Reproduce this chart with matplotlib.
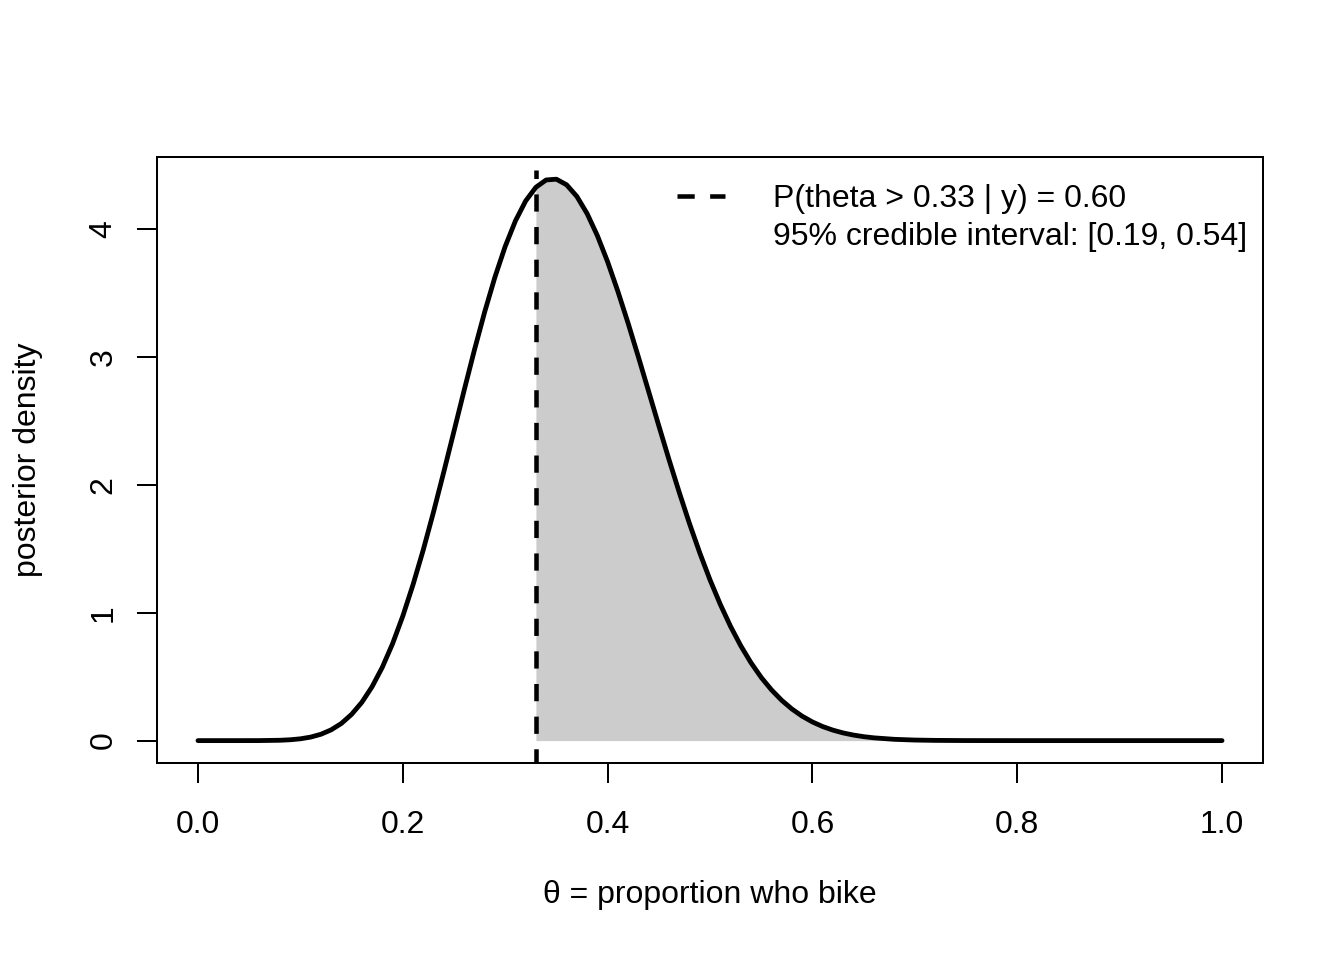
import numpy as np
import matplotlib.pyplot as plt
from matplotlib.lines import Line2D

plt.rcParams['font.family'] = ['Liberation Sans', 'DejaVu Sans']

# posterior density
theta = [0.00, 0.04, 0.06, 0.08, 0.09, 0.10, 0.11, 0.12, 0.13, 0.14,
         0.15, 0.16, 0.17, 0.18, 0.19, 0.20, 0.21, 0.22, 0.23, 0.24,
         0.25, 0.26, 0.27, 0.28, 0.29, 0.30, 0.31, 0.32, 0.33, 0.34,
         0.35, 0.36, 0.37, 0.38, 0.39, 0.40, 0.41, 0.42, 0.43, 0.44,
         0.45, 0.46, 0.47, 0.48, 0.49, 0.50, 0.51, 0.52, 0.53, 0.54,
         0.55, 0.56, 0.57, 0.58, 0.59, 0.60, 0.61, 0.62, 0.63, 0.64,
         0.65, 0.66, 0.68, 0.70, 0.72, 0.75, 0.80, 0.90, 1.00]
density = [0.0, 0.0, 0.0003, 0.0027, 0.0066, 0.0141, 0.0274, 0.0495, 0.0838, 0.134,
           0.205, 0.299, 0.421, 0.573, 0.757, 0.973, 1.219, 1.491, 1.787, 2.099,
           2.419, 2.741, 3.055, 3.352, 3.624, 3.863, 4.063, 4.219, 4.326, 4.383,
           4.389, 4.345, 4.254, 4.120, 3.948, 3.744, 3.513, 3.264, 3.001, 2.732,
           2.462, 2.196, 1.940, 1.696, 1.468, 1.257, 1.066, 0.894, 0.742, 0.609,
           0.494, 0.397, 0.315, 0.247, 0.191, 0.146, 0.110, 0.082, 0.060, 0.0435,
           0.031, 0.0217, 0.0101, 0.0044, 0.0018, 0.0004, 0.0, 0.0, 0.0]
cutoff = 0.33
vline_top = 4.46
legend_labels = ['P(theta > 0.33 | y) = 0.60', '95% credible interval: [0.19, 0.54]']

x = np.array(theta)
y = np.array(density)

fig = plt.figure(figsize=(7, 5), dpi=192)
ax = fig.add_axes([157/1344, 1 - 763/960, (1263 - 157)/1344, (763 - 157)/960])

# shaded part right of the cutoff
mask = x >= cutoff
ax.fill_between(x[mask], y[mask], 0, color='#CCCCCC', lw=0)
ax.plot(x, y, color='black', lw=1.8, solid_capstyle='round', solid_joinstyle='round')
ax.plot([cutoff, cutoff], [-0.2, vline_top], color='black', lw=1.7, ls=(0, (3.8, 3.4)))

ax.set_xlim(-0.04, 1.04)
ax.set_ylim(-0.175, 4.5625)
ax.set_xticks([0.0, 0.2, 0.4, 0.6, 0.8, 1.0])
ax.set_xticklabels(['0.0', '0.2', '0.4', '0.6', '0.8', '1.0'])
ax.set_yticks([0, 1, 2, 3, 4])
ax.tick_params(direction='out', length=7.5, width=0.75, labelsize=12, pad=10)
ax.tick_params(axis='y', pad=7)
for lab in ax.get_yticklabels():
    lab.set_rotation(90)
    lab.set_va('center')
for s in ax.spines.values():
    s.set_linewidth(0.75)

ax.set_xlabel('θ = proportion who bike', fontsize=12, labelpad=15)
ax.set_ylabel('posterior density', fontsize=12, labelpad=17)

handles = [Line2D([], [], color='black', lw=1.7, ls=(0, (3.8, 3.4))),
           Line2D([], [], color='none')]
ax.legend(handles, legend_labels, loc='upper right', bbox_to_anchor=(1, 1 - 11/606),
          frameon=False, fontsize=12, handlelength=1.5, handletextpad=1.5,
          labelspacing=0.24, borderaxespad=0, borderpad=0.5)

fig.savefig('out.png', dpi=192)
